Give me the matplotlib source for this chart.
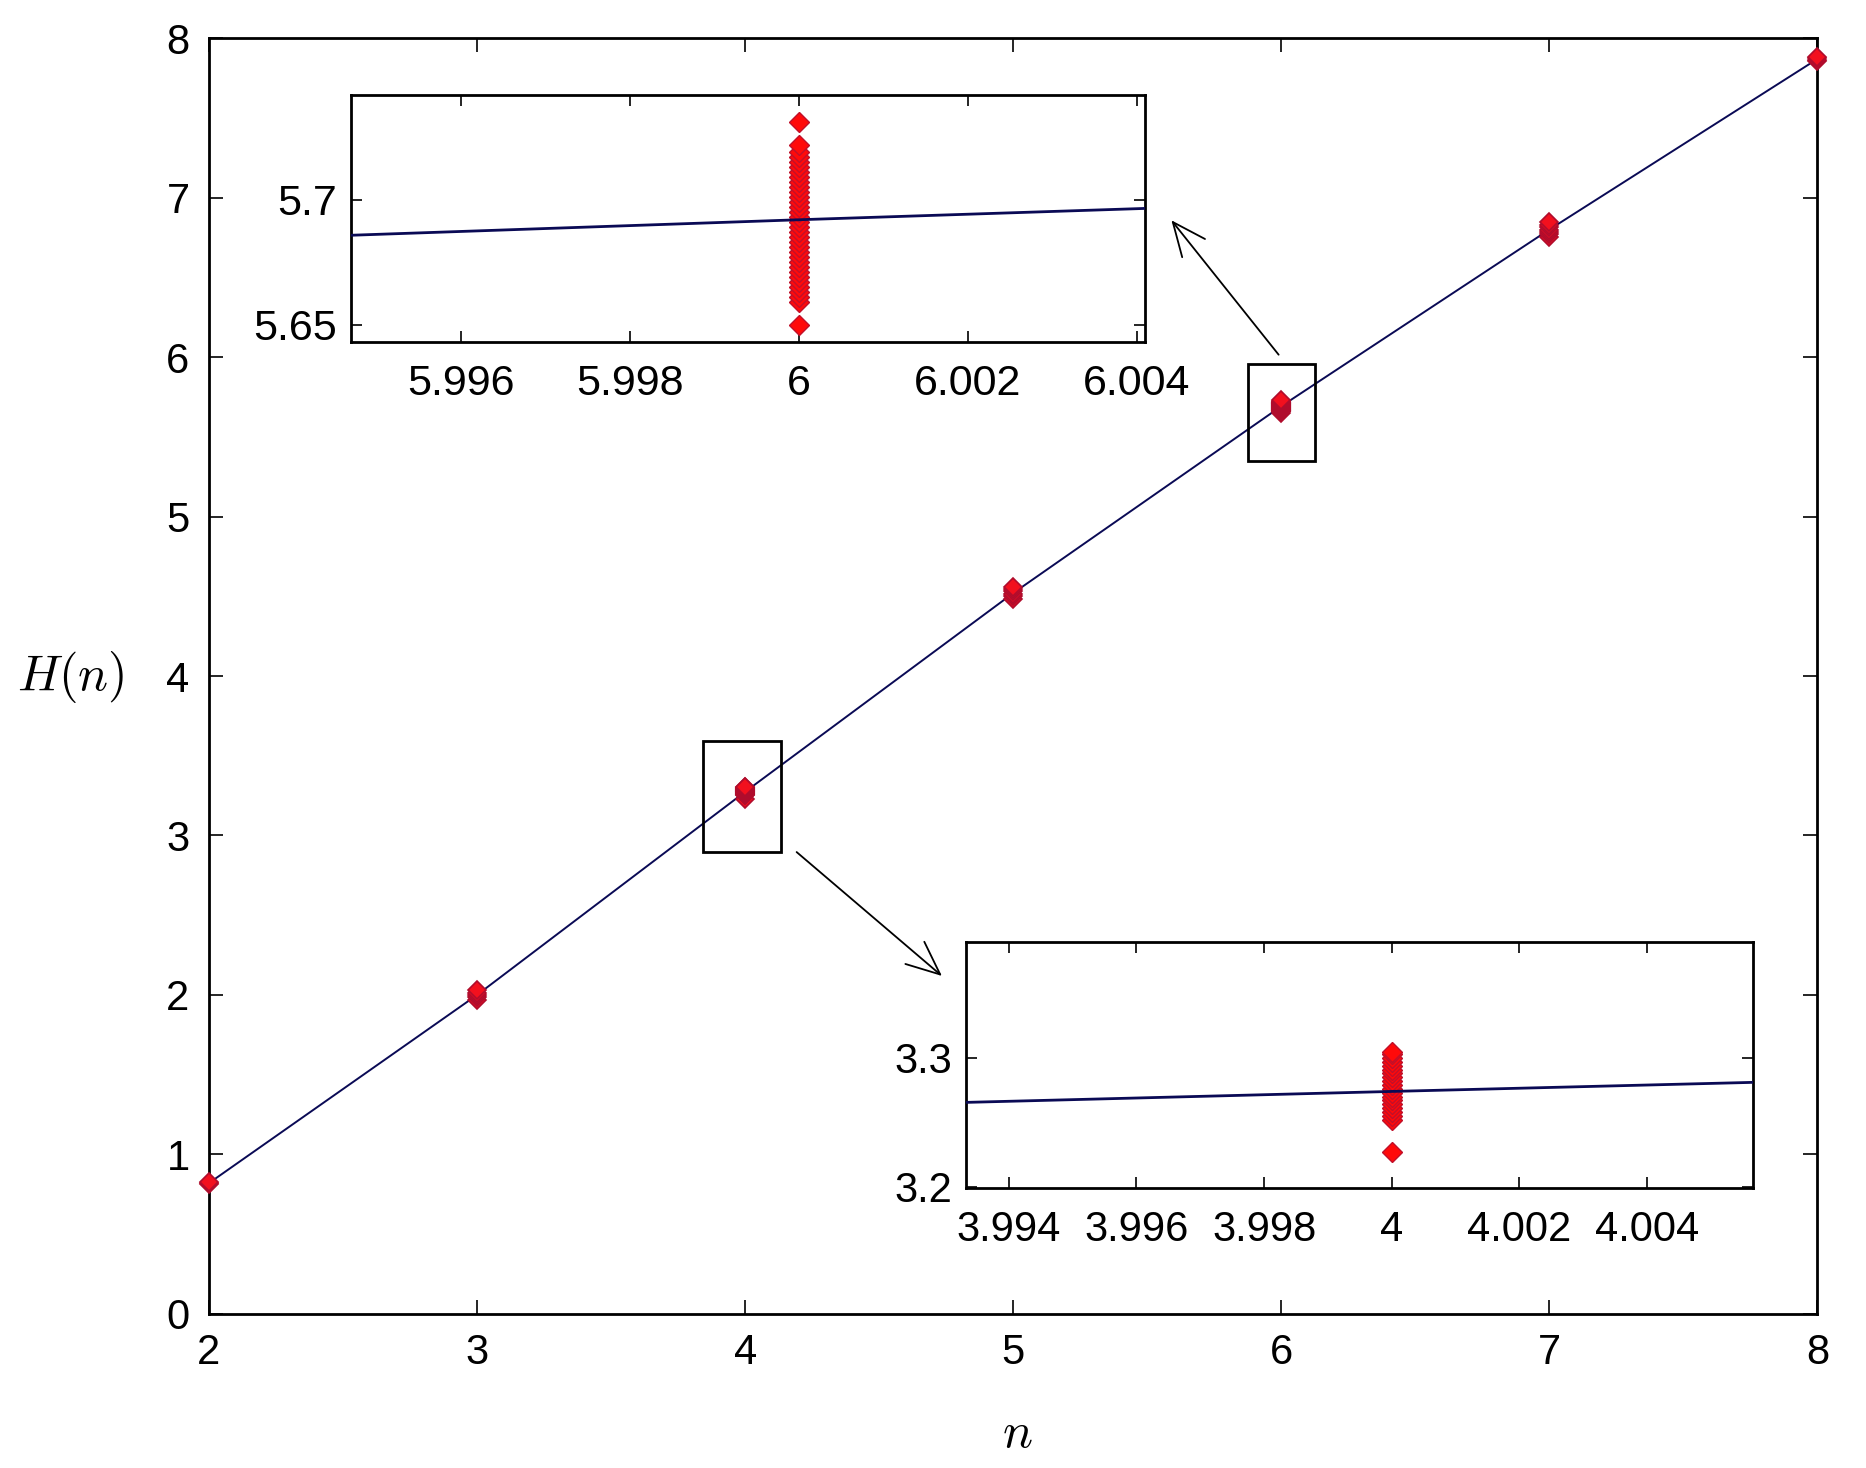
import matplotlib
matplotlib.use('Agg')
import matplotlib.pyplot as plt
from matplotlib.patches import Rectangle

plt.rcParams['font.family'] = ['Liberation Sans', 'DejaVu Sans']
plt.rcParams['mathtext.fontset'] = 'cm'

# mean entropy per n (the line)
n_vals = [2, 3, 4, 5, 6, 7, 8]
h_mean = [0.82, 2.0, 3.274, 4.52, 5.692, 6.80, 7.87]

# sampled values at each n (red clusters)
h_n2 = [0.815, 0.82, 0.825]
h_n3 = [1.97, 1.985, 2.0, 2.015, 2.03]
h_n4 = [3.227, 3.252, 3.255, 3.258, 3.261, 3.264, 3.267, 3.270, 3.273,
        3.276, 3.279, 3.282, 3.285, 3.288, 3.291, 3.294, 3.297, 3.300,
        3.303, 3.305]
h_n5 = [4.485, 4.50, 4.515, 4.53, 4.545, 4.56]
h_n6 = [5.650, 5.659, 5.661, 5.663, 5.665, 5.667, 5.669, 5.671, 5.673,
        5.675, 5.677, 5.679, 5.681, 5.683, 5.685, 5.687, 5.689, 5.691,
        5.693, 5.695, 5.697, 5.699, 5.701, 5.703, 5.705, 5.707, 5.709,
        5.711, 5.713, 5.715, 5.717, 5.719, 5.722, 5.731]
h_n7 = [6.755, 6.77, 6.785, 6.80, 6.815, 6.83, 6.845]
h_n8 = [7.855, 7.865, 7.875, 7.885]
clusters = {2: h_n2, 3: h_n3, 4: h_n4, 5: h_n5, 6: h_n6, 7: h_n7, 8: h_n8}

line_col = '#0a0a55'
mk = dict(marker='D', markersize=9.5, markerfacecolor='#f2101e',
          markeredgecolor='#b00c2c', markeredgewidth=1.2, linestyle='none')
mk_in = dict(marker='D', markersize=10, markerfacecolor='#ff0a0a',
             markeredgecolor='#c0102a', markeredgewidth=1.0, linestyle='none')

fig = plt.figure(figsize=(18.66, 14.68), dpi=100)
ax = fig.add_axes([0.112, 0.105, 0.862, 0.869])
ax.plot(n_vals, h_mean, '-', color=line_col, linewidth=1.4, zorder=2)
for n, hs in clusters.items():
    ax.plot([n] * len(hs), hs, zorder=3, clip_on=False, **mk)
ax.set_xlim(2, 8)
ax.set_ylim(0, 8)
ax.set_xticks(range(2, 9))
ax.set_yticks(range(0, 9))
ax.tick_params(direction='in', length=10, width=1.2, top=True, right=True,
               labelsize=30, pad=14)
for s in ax.spines.values():
    s.set_linewidth(2)

# zoom boxes
ax.add_patch(Rectangle((5.875, 5.35), 0.252, 0.605, fill=False,
                       edgecolor='black', linewidth=2, zorder=4))
ax.add_patch(Rectangle((3.842, 2.896), 0.293, 0.694, fill=False,
                       edgecolor='black', linewidth=2, zorder=4))

arw = dict(arrowstyle='->,head_length=0.8,head_width=0.35', color='black',
           linewidth=1.3, mutation_scale=30, shrinkA=0, shrinkB=0)
ax.annotate('', xy=(5.59, 6.858), xytext=(5.99, 6.015), arrowprops=arw)
ax.annotate('', xy=(4.734, 2.119), xytext=(4.192, 2.896), arrowprops=arw)

fig.text(0.038, 0.539, '$H(n)$', fontsize=36, ha='center', va='center')
fig.text(0.545, 0.023, '$n$', fontsize=36, ha='center', va='center')

# inset around n = 6
ax1 = fig.add_axes([0.1881, 0.767, 0.4255, 0.1683])
ax1.plot([6] * len(h_n6), h_n6, zorder=2, **mk_in)
ax1.plot(n_vals, h_mean, '-', color=line_col, linewidth=2, zorder=3)
ax1.set_xlim(5.9947, 6.0041)
ax1.set_ylim(5.643, 5.742)
ax1.set_xticks([5.996, 5.998, 6.0, 6.002, 6.004])
ax1.set_xticklabels(['5.996', '5.998', '6', '6.002', '6.004'])
ax1.set_yticks([5.65, 5.7])
ax1.set_yticklabels(['5.65', '5.7'])
ax1.tick_params(direction='in', length=8, width=1.2, top=True, right=True,
                labelsize=31)
ax1.tick_params(axis='x', pad=16)
ax1.tick_params(axis='y', pad=10)
for s in ax1.spines.values():
    s.set_linewidth(2)

# inset around n = 4
ax2 = fig.add_axes([0.5177, 0.1907, 0.4218, 0.1676])
ax2.plot([4] * len(h_n4), h_n4, zorder=2, **mk_in)
ax2.plot(n_vals, h_mean, '-', color=line_col, linewidth=2, zorder=3)
ax2.set_xlim(3.99333, 4.00566)
ax2.set_ylim(3.199, 3.39)
ax2.set_xticks([3.994, 3.996, 3.998, 4.0, 4.002, 4.004])
ax2.set_xticklabels(['3.994', '3.996', '3.998', '4', '4.002', '4.004'])
ax2.set_yticks([3.2, 3.3])
ax2.set_yticklabels(['3.2', '3.3'])
ax2.tick_params(direction='in', length=8, width=1.2, top=True, right=True,
                labelsize=30)
ax2.tick_params(axis='x', pad=16)
ax2.tick_params(axis='y', pad=10)
for s in ax2.spines.values():
    s.set_linewidth(2)

fig.savefig('out.png', dpi=100)
